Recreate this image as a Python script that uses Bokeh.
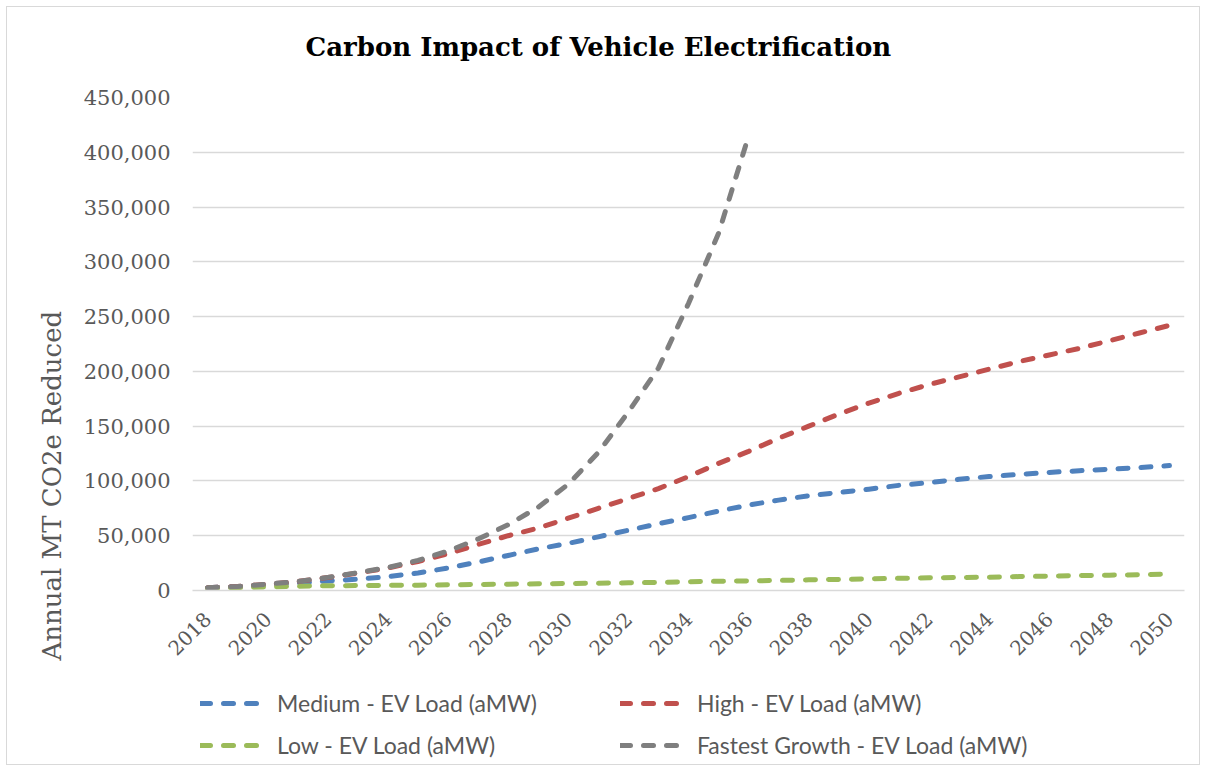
from math import pi
from bokeh.plotting import figure
from bokeh.layouts import column
from bokeh.models import (Range1d, FixedTicker, NumeralTickFormatter, Legend,
                          LegendItem, Title)
from bokeh.embed import file_html
from bokeh.resources import INLINE

years = list(range(2018, 2051))
medium = [2600, 3500, 5000, 6800, 8700, 10400, 12600, 16000, 20500, 26000,
          32000, 38000, 43000, 49000, 55000, 61000, 66500, 72500, 78000, 82500,
          86500, 89500, 92500, 96000, 98500, 101500, 104000, 106000, 107800,
          109300, 110700, 112200, 114000]
high = [2600, 3700, 5700, 8200, 11800, 16000, 20500, 26500, 33500, 42000,
        50000, 57000, 66000, 75000, 84000, 93000, 104000, 116000, 127000,
        139000, 150000, 161000, 171000, 180000, 188000, 195000, 202000, 209000,
        215000, 221000, 228000, 235000, 242000]
low = [2000, 2600, 3300, 3900, 4300, 4500, 4700, 4900, 5200, 5500, 5800, 6100,
       6400, 6700, 7000, 7400, 8000, 8400, 8800, 9200, 9700, 10100, 10600,
       11100, 11600, 11900, 12200, 12700, 13100, 13600, 14000, 14400, 15000]
fastest_years = list(range(2018, 2037))
fastest = [2600, 3700, 5800, 8300, 12000, 16300, 21000, 27500, 36000, 47000,
           60000, 76000, 97000, 126000, 163000, 203000, 262000, 326000, 415000]

series_names = ["Medium - EV Load (aMW)", "High - EV Load (aMW)",
                "Low - EV Load (aMW)", "Fastest Growth - EV Load (aMW)"]
colors = ["#4f81bd", "#c0504d", "#9bbb59", "#7f7f7f"]
x_ticks = list(range(2018, 2051, 2))
y_ticks = list(range(0, 450001, 50000))

SERIF = "DejaVu Serif"
GREY_TXT = "#595959"
GRID = "#d9d9d9"
LINE_STYLE = dict(line_width=5, line_dash="10 13", line_cap="round",
                  line_join="round")
COMMON = dict(width=1192, output_backend="svg", toolbar_location=None)

# ---------------- title strip ----------------
hf = figure(height=77, x_axis_location=None, y_axis_location=None,
            x_range=Range1d(0, 1), y_range=Range1d(0, 1), min_border=0,
            outline_line_color=None, **COMMON)
hf.grid.visible = False
hf.title.text = "Carbon Impact of Vehicle Electrification"
hf.title.align = "left"
hf.title.offset = 113
hf.title.standoff = 45
hf.title.text_font = SERIF
hf.title.text_font_style = "bold"
hf.title.text_font_size = "26px"
hf.title.text_color = "black"

# ---------------- main chart ----------------
p = figure(height=596, title=None,
           x_range=Range1d(2017.5, 2050.5), y_range=Range1d(0, 450000),
           min_border_left=185, min_border_right=15, min_border_top=13,
           min_border_bottom=90, outline_line_color=None, **COMMON)

p.xaxis.ticker = FixedTicker(ticks=x_ticks)
p.yaxis.ticker = FixedTicker(ticks=y_ticks)
p.yaxis.formatter = NumeralTickFormatter(format="0,0")
for ax in (p.xaxis, p.yaxis):
    ax.major_tick_line_color = None
    ax.minor_tick_line_color = None
    ax.major_tick_out = 0
    ax.major_tick_in = 0
    ax.major_label_text_font = SERIF
    ax.major_label_text_color = GREY_TXT
p.yaxis.major_label_text_font_size = "21px"
p.xaxis.major_label_text_font_size = "20px"
p.yaxis.axis_line_color = None
p.yaxis.major_label_standoff = 22
p.xaxis.axis_line_color = GRID
p.xaxis.axis_line_width = 1.5
p.xaxis.major_label_orientation = pi / 4
p.xaxis.major_label_standoff = 25
p.xgrid.grid_line_color = None
p.ygrid.grid_line_color = GRID
p.ygrid.grid_line_width = 1.5

ytitle = Title(text="Annual MT CO2e Reduced", align="left", offset=-70,
               standoff=28, text_font=SERIF, text_font_size="26px",
               text_font_style="normal", text_color=GREY_TXT)
p.add_layout(ytitle, "left")

data = [(years, medium), (years, high), (years, low), (fastest_years, fastest)]
for (xs, ys), c in zip(data, colors):
    p.line(xs, ys, line_color=c, **LINE_STYLE)

# ---------------- legend strip ----------------
lf = figure(height=84, title=None, x_axis_location=None, y_axis_location=None,
            x_range=Range1d(0, 1), y_range=Range1d(0, 1),
            min_border=0, outline_line_color=None, **COMMON)
lf.grid.visible = False

nan = float("nan")
leg_pos = [(8, 46), (428, 46), (8, 4), (428, 4)]
for name, c, loc in zip(series_names, colors, leg_pos):
    r = lf.line(x=[nan], y=[nan], line_color=c, **LINE_STYLE)
    lg = Legend(items=[LegendItem(label=name, renderers=[r])], location=loc,
                padding=0, margin=0, border_line_color=None,
                background_fill_alpha=0, glyph_width=62, glyph_height=30,
                label_height=30, label_standoff=15,
                label_text_font="Lato", label_text_font_size="23px",
                label_text_color=GREY_TXT, label_text_baseline="middle")
    lf.add_layout(lg, "center")

layout = column(hf, p, lf, styles={"border": "1px solid #d9d9d9",
                                   "margin": "6px 0 0 6px"})

open("out.html", "w").write(file_html(layout, INLINE))
